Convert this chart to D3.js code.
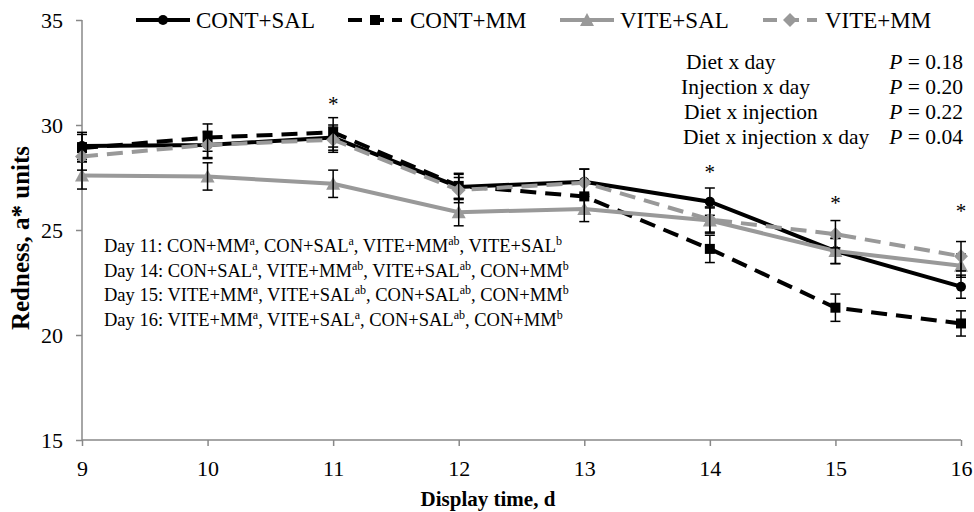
<!DOCTYPE html>
<html>
<head>
<meta charset="utf-8">
<script src="https://cdn.jsdelivr.net/npm/d3@7"></script>
<style>
html,body{margin:0;padding:0;background:#fff;}
svg{display:block;}
svg text{font-family:"Liberation Serif","Times New Roman",serif;}
</style>
</head>
<body>
<svg id="chart" width="974" height="512"></svg>
<script>
const days = [9, 10, 11, 12, 13, 14, 15, 16];
const yTicks = [15, 20, 25, 30, 35];
const seriesNames = ["CONT+SAL", "CONT+MM", "VITE+SAL", "VITE+MM"];
const contSal = [29.0, 29.05, 29.4, 27.05, 27.3, 26.35, 24.0, 22.3];
const contMm  = [28.9, 29.4, 29.65, 27.1, 26.6, 24.1, 21.3, 20.55];
const viteSal = [27.6, 27.55, 27.2, 25.85, 26.0, 25.45, 24.0, 23.3];
const viteMm  = [28.5, 29.05, 29.3, 26.9, 27.25, 25.5, 24.8, 23.75];
const seContSal = [0.65, 0.6, 0.6, 0.6, 0.6, 0.65, 0.6, 0.55];
const seContMm  = [0.65, 0.65, 0.7, 0.6, 0.6, 0.65, 0.65, 0.6];
const seViteSal = [0.65, 0.65, 0.65, 0.65, 0.6, 0.6, 0.6, 0.55];
const seViteMm  = [0.65, 0.65, 0.6, 0.6, 0.65, 0.6, 0.65, 0.7];
const starDays = [11, 14, 15, 16];
const starLevels = [31.2, 27.95, 26.5, 26.1];
const statLabels = ["Diet x day", "Injection x day", "Diet x injection", "Diet x injection x day"];
const statP = ["0.18", "0.20", "0.22", "0.04"];
const noteDays = ["Day 11: ", "Day 14: ", "Day 15: ", "Day 16: "];
const noteItems = [
  [["CON+MM","a"],["CON+SAL","a"],["VITE+MM","ab"],["VITE+SAL","b"]],
  [["CON+SAL","a"],["VITE+MM","ab"],["VITE+SAL","ab"],["CON+MM","b"]],
  [["VITE+MM","a"],["VITE+SAL","ab"],["CON+SAL","ab"],["CON+MM","b"]],
  [["VITE+MM","a"],["VITE+SAL","a"],["CON+SAL","ab"],["CON+MM","b"]]
];

const values = [contSal, contMm, viteSal, viteMm];
const errs = [seContSal, seContMm, seViteSal, seViteMm];
const styles = [
  {color:"#000", dash:null, marker:"circle"},
  {color:"#000", dash:"16,9", marker:"square"},
  {color:"#999", dash:null, marker:"triangle"},
  {color:"#999", dash:"16,9", marker:"diamond"}
];
const FF = '"Liberation Serif","Times New Roman",serif';

const svg = d3.select("#chart");
const x = d3.scaleLinear().domain([9, 16]).range([82, 961]);
const y = d3.scaleLinear().domain([15, 35]).range([440, 20]);

// axes
const axisColor = "#888";
const yAxis = svg.append("g").attr("transform", "translate(82,0)")
  .call(d3.axisLeft(y).tickValues(yTicks).tickSize(6).tickPadding(13).tickFormat(d3.format("d")));
const xAxis = svg.append("g").attr("transform", "translate(0,440)")
  .call(d3.axisBottom(x).tickValues(days).tickSize(6).tickPadding(14).tickFormat(d3.format("d")));
[yAxis, xAxis].forEach(g => {
  g.attr("font-family", FF).attr("font-size", 22);
  g.selectAll("path,line").attr("stroke", axisColor).attr("stroke-width", 1.5);
  g.selectAll("text").attr("fill", "#000").style("font-family", FF).style("font-size", "22px");
});
yAxis.select(".domain").attr("d", `M0,${y(35)}V${y(15)}`);
xAxis.select(".domain").attr("d", `M${x(9)},0H${x(16)}`);

// axis titles
svg.append("text").attr("x", 488).attr("y", 506).attr("text-anchor", "middle")
  .attr("font-weight", "bold").attr("font-size", 21).text("Display time, d");
svg.append("text").attr("transform", "translate(29,238) rotate(-90)").attr("text-anchor", "middle")
  .attr("font-weight", "bold").attr("font-size", 25).text("Redness, a* units");

function drawMarker(g, type, cx, cy, color) {
  if (type === "circle") g.append("circle").attr("cx", cx).attr("cy", cy).attr("r", 5).attr("fill", color);
  else if (type === "square") g.append("rect").attr("x", cx-5).attr("y", cy-5).attr("width", 10).attr("height", 10).attr("fill", color);
  else if (type === "triangle") g.append("path").attr("d", `M${cx},${cy-7}L${cx+7},${cy+6}L${cx-7},${cy+6}Z`).attr("fill", color);
  else if (type === "diamond") g.append("path").attr("d", `M${cx},${cy-7}L${cx+7},${cy}L${cx},${cy+7}L${cx-7},${cy}Z`).attr("fill", color);
}

const line = d3.line().x((d,i) => x(days[i])).y(d => y(d));
values.forEach((vals, s) => {
  const st = styles[s];
  const g = svg.append("g");
  g.append("path").attr("d", line(vals)).attr("fill", "none").attr("stroke", st.color)
    .attr("stroke-width", 4).attr("stroke-dasharray", st.dash);
  vals.forEach((v, i) => drawMarker(g, st.marker, x(days[i]), y(v), st.color));
  vals.forEach((v, i) => {
    const cx = x(days[i]), e = errs[s][i];
    g.append("line").attr("x1", cx).attr("x2", cx).attr("y1", y(v+e)).attr("y2", y(v-e)).attr("stroke", "#000").attr("stroke-width", 1.5);
    [v+e, v-e].forEach(t => g.append("line").attr("x1", cx-5).attr("x2", cx+5).attr("y1", y(t)).attr("y2", y(t)).attr("stroke", "#000").attr("stroke-width", 1.5));
  });
});

// asterisks
starDays.forEach((d, k) => {
  svg.append("text").attr("x", x(d)).attr("y", y(starLevels[k]) + 11).attr("text-anchor", "middle")
    .attr("font-size", 21).text("*");
});

// legend
const legX = [136, 348, 560, 763];
const legTextX = [196, 410, 620, 825];
seriesNames.forEach((n, s) => {
  const st = styles[s];
  const g = svg.append("g");
  const lx = legX[s], ly = 20;
  g.append("line").attr("x1", lx).attr("x2", lx+54).attr("y1", ly).attr("y2", ly)
    .attr("stroke", st.color).attr("stroke-width", 4).attr("stroke-dasharray", st.dash ? "14,8" : null);
  drawMarker(g, st.marker, lx+27, ly, st.color);
  g.append("text").attr("x", legTextX[s]).attr("y", ly+8).attr("font-size", 23).text(n);
});

// stats
const statX = [686, 681, 684, 683];
statLabels.forEach((t, i) => {
  const yy = 69 + i*25;
  svg.append("text").attr("x", statX[i]).attr("y", yy).attr("font-size", 21.5).text(t);
  const tp = svg.append("text").attr("x", 963).attr("y", yy).attr("font-size", 21.5).attr("text-anchor", "end");
  tp.append("tspan").attr("font-style", "italic").text("P");
  tp.append("tspan").text(" = " + statP[i]);
});

// notes
noteDays.forEach((d, r) => {
  const t = svg.append("text").attr("x", 104).attr("y", 252 + r*24.7).attr("font-size", 18.5);
  t.append("tspan").text(d);
  noteItems[r].forEach((it, k) => {
    t.append("tspan").text(it[0]);
    t.append("tspan").attr("font-size", 12).attr("dy", -7).text(it[1]);
    t.append("tspan").attr("dy", 7).text(k < 3 ? ", " : "");
  });
});
</script>
</body>
</html>
